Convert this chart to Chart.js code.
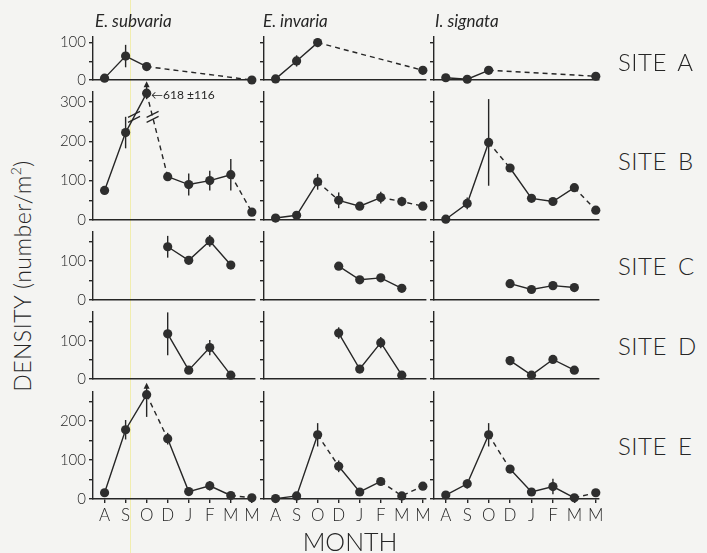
<!DOCTYPE html>
<html><head><meta charset="utf-8">
<script src="https://cdn.jsdelivr.net/npm/chart.js@4.4.1/dist/chart.umd.min.js"></script>
<style>
html,body{margin:0;padding:0;background:#f4f4f2;}
#wrap{position:relative;width:707px;height:553px;overflow:hidden;font-family:Lato,'DejaVu Sans',sans-serif;color:#262626;}
#wrap canvas{position:absolute;}
.t{position:absolute;white-space:nowrap;line-height:1;}
.title{font-size:17px;font-style:italic;}
.site{font-size:24px;font-weight:300;letter-spacing:0.5px;word-spacing:4px;}
#scan{position:absolute;left:130px;top:0;width:1px;height:553px;background:rgba(238,232,120,0.55);}
</style></head>
<body><div id="wrap"><div id="scan"></div></div>
<script>
// ---- categories & labels ----
const months = ['A','S','O','D','J','F','M','M'];
const species = ['E. subvaria','E. invaria','I. signata'];
const sites = ['SITE A','SITE B','SITE C','SITE D','SITE E'];
const yLabelled = [[0,100],[0,100,200,300],[0,100],[0,100],[0,100,200]];

// ---- densities (number/m2), index = month ----
const A_sub = [5,64,36,null,null,null,null,0];
const A_inv = [3,51,100,null,null,null,null,26];
const A_sig = [6,2,26,null,null,null,null,10];
const B_sub = [75,222,618,110,90,100,115,20];
const B_inv = [5,12,97,50,35,57,47,35];
const B_sig = [2,42,197,132,55,47,82,25];
const C_sub = [null,null,null,137,102,152,90,null];
const C_inv = [null,null,null,87,52,57,30,null];
const C_sig = [null,null,null,42,27,37,32,null];
const D_sub = [null,null,null,118,23,82,10,null];
const D_inv = [null,null,null,120,26,95,10,null];
const D_sig = [null,null,null,48,10,51,23,null];
const E_sub = [16,178,268,155,19,34,9,3];
const E_inv = [1,8,165,84,18,45,8,33];
const E_sig = [10,39,165,77,18,32,3,16];

// ---- standard errors ----
const A_sub_se = [0,30,8,0,0,0,0,0];
const A_inv_se = [0,15,12,0,0,0,0,0];
const A_sig_se = [0,0,8,0,0,0,0,0];
const B_sub_se = [10,40,116,0,28,25,40,0];
const B_inv_se = [0,0,20,20,0,15,12,0];
const B_sig_se = [0,15,110,0,0,8,0,0];
const C_sub_se = [0,0,0,28,0,15,0,0];
const C_inv_se = [0,0,0,0,8,0,0,0];
const C_sig_se = [0,0,0,0,0,0,0,0];
const D_sub_se = [0,0,0,56,0,20,0,0];
const D_inv_se = [0,0,0,15,0,15,0,0];
const D_sig_se = [0,0,0,12,0,10,0,0];
const E_sub_se = [0,25,57,15,0,12,0,0];
const E_inv_se = [0,0,30,15,0,10,0,0];
const E_sig_se = [0,12,30,0,0,20,0,0];

// ---- dashed connecting segments (flag on the month a segment ends at) ----
const A_sub_dash = [0,0,0,0,0,0,0,1];
const A_inv_dash = [0,0,0,0,0,0,0,1];
const A_sig_dash = [0,0,0,0,0,0,0,1];
const B_sub_dash = [0,0,0,1,0,0,0,1];
const B_inv_dash = [0,0,0,1,0,0,1,1];
const B_sig_dash = [0,0,0,1,0,0,0,1];
const C_dash = [0,0,0,0,0,0,0,0];
const D_dash = [0,0,0,0,0,0,0,0];
const E_sub_dash = [0,0,0,1,0,0,0,1];
const E_inv_dash = [0,0,0,1,0,0,1,1];
const E_sig_dash = [0,0,0,1,0,0,0,1];

const values = [[A_sub,A_inv,A_sig],[B_sub,B_inv,B_sig],[C_sub,C_inv,C_sig],[D_sub,D_inv,D_sig],[E_sub,E_inv,E_sig]];
const ses = [[A_sub_se,A_inv_se,A_sig_se],[B_sub_se,B_inv_se,B_sig_se],[C_sub_se,C_inv_se,C_sig_se],[D_sub_se,D_inv_se,D_sig_se],[E_sub_se,E_inv_se,E_sig_se]];
const dashes = [[A_sub_dash,A_inv_dash,A_sig_dash],[B_sub_dash,B_inv_dash,B_sig_dash],[C_dash,C_dash,C_dash],[D_dash,D_dash,D_dash],[E_sub_dash,E_inv_dash,E_sig_dash]];

// ---- layout / style ----
const INK = '#262626';
const FONT = "Lato, 'DejaVu Sans', sans-serif";
const colX = [93,264,434], colW = [162,162,165];
const rowTop = [37,92,232,312,392], rowZero = [82,222,302,381,499];
const yMax = [115,325,175,175,275];
const bottomH = [10,10,10,10,30];
const PADT = 14, PADR = 14, YW = 45;
const BREAK_SHOW = 322, BREAK_MARK = 262;

function makePlugin(raw, se, max, isBroken){
  return {
    id:'errbars',
    beforeDatasetsDraw(chart){
      const {ctx, scales:{x,y}} = chart;
      ctx.save();
      ctx.strokeStyle = INK; ctx.fillStyle = INK; ctx.lineWidth = 1.4;
      raw.forEach((v,i)=>{
        if (v==null || !se[i]) return;
        const px = x.getPixelForValue(i);
        const shown = v > max ? BREAK_SHOW : v;
        const py = y.getPixelForValue(shown);
        let top = y.getPixelForValue(v+se[i]);
        let bot = v > max ? py + 6 : y.getPixelForValue(Math.max(v-se[i],0));
        const arrow = v + se[i] > max*1.1;
        if (arrow) top = py - 11;
        ctx.beginPath(); ctx.moveTo(px, top+ (arrow?3:0)); ctx.lineTo(px, bot); ctx.stroke();
        if (arrow){
          ctx.beginPath(); ctx.moveTo(px, top-1); ctx.lineTo(px-3, top+5); ctx.lineTo(px+3, top+5); ctx.closePath(); ctx.fill();
        }
      });
      ctx.restore();
    },
    afterDatasetsDraw(chart){
      if (!isBroken) return;
      const {ctx, scales:{y}} = chart;
      const pts = chart.getDatasetMeta(0).data;
      const yb = y.getPixelForValue(BREAK_MARK);
      ctx.save(); ctx.strokeStyle = INK; ctx.lineWidth = 1.3;
      [[1,2],[2,3]].forEach(([a,b])=>{
        const p0 = pts[a], p1 = pts[b];
        const t = (yb - p0.y)/(p1.y - p0.y);
        const cx = p0.x + t*(p1.x - p0.x);
        [-2.5,2.5].forEach(off=>{
          ctx.beginPath(); ctx.moveTo(cx-6, yb+off+3); ctx.lineTo(cx+6, yb+off-3); ctx.stroke();
        });
      });
      ctx.restore();
    }
  };
}

const wrap = document.getElementById('wrap');
for (let r=0;r<5;r++){
  for (let c=0;c<3;c++){
    const raw = values[r][c], se = ses[r][c], dash = dashes[r][c];
    const max = yMax[r];
    const isBroken = raw.some(v=>v!=null && v>max);
    const plotH = rowZero[r]-rowTop[r];
    const cv = document.createElement('canvas');
    const W = YW + colW[c] + PADR, H = PADT + plotH + bottomH[r];
    cv.width = W; cv.height = H;
    cv.style.width = W+'px'; cv.style.height = H+'px';
    cv.style.left = (colX[c]-YW)+'px'; cv.style.top = (rowTop[r]-PADT)+'px';
    wrap.appendChild(cv);
    const isLast = r===4;
    const tickVals = []; for (let v=0; v<=max; v+=50) tickVals.push(v);
    new Chart(cv, {
      type:'line',
      data:{ datasets:[{
        data: raw.map((v,i)=>({x:i, y: v==null ? null : (v>max ? BREAK_SHOW : v)})),
        borderColor: INK, borderWidth: 1.4, backgroundColor: INK,
        pointRadius: 4.6, pointHoverRadius: 4.6, pointBackgroundColor: '#2e2e2e', pointBorderWidth: 0,
        spanGaps: true, tension: 0, clip: false,
        segment:{ borderDash: ctx => dash[ctx.p1DataIndex] ? [5,4] : undefined }
      }]},
      options:{
        responsive:false, animation:false, events:[],
        layout:{ padding:{top:PADT, right:PADR, left:0, bottom:0} },
        plugins:{ legend:{display:false}, tooltip:{enabled:false} },
        scales:{
          x:{ type:'linear', min:-0.55, max:7.15,
            afterBuildTicks: s => { s.ticks = months.map((m,i)=>({value:i})); },
            afterFit: s => { s.height = bottomH[r]; },
            ticks:{ display:isLast, autoSkip:false, maxRotation:0, padding:2, color:INK,
              font:{family:FONT, size:17, weight:'300'}, callback: v => months[v] },
            grid:{ drawOnChartArea:false, drawTicks:isLast, tickLength:4, color:INK, lineWidth:1.4 },
            border:{ color:INK, width:1.4 } },
          y:{ type:'linear', min:0, max:max,
            afterBuildTicks: s => { s.ticks = tickVals.map(v=>({value:v})); },
            afterFit: s => { s.width = YW; },
            ticks:{ autoSkip:false, padding:3, color:INK, font:{family:FONT, size:15, weight:'300'},
              callback: v => (c===0 && yLabelled[r].includes(v)) ? String(v) : '' },
            grid:{ drawOnChartArea:false, drawTicks:true, tickLength:4, color:INK, lineWidth:1.4 },
            border:{ color:INK, width:1.4 } }
        }
      },
      plugins:[makePlugin(raw, se, max, isBroken)]
    });
  }
}

function addText(txt, cls, style){
  const d = document.createElement('div');
  d.className = 't ' + cls; d.innerHTML = txt;
  Object.assign(d.style, style); wrap.appendChild(d);
}
const titleLeft = [95,263,435];
species.forEach((s,i)=>addText(s,'title',{left:titleLeft[i]+'px', top:'12px'}));
const siteTop = [50,149,254,334,434];
sites.forEach((s,i)=>addText(s,'site',{left:'618px', top:siteTop[i]+'px'}));
addText('\u2190618 \u00b1116','',{left:'151px', top:'89px', fontSize:'12px'});
addText('MONTH','',{left:'350px', top:'529px', fontSize:'25px', fontWeight:'300', transform:'translateX(-50%)'});
addText('DENSITY (number/m<sup style="font-size:14px;vertical-align:top;position:relative;top:-2px">2</sup>)','',
  {left:'22px', top:'276px', fontSize:'23px', fontWeight:'300', letterSpacing:'0.5px', transform:'translate(-50%,-50%) rotate(-90deg)'});
</script>
</body></html>
